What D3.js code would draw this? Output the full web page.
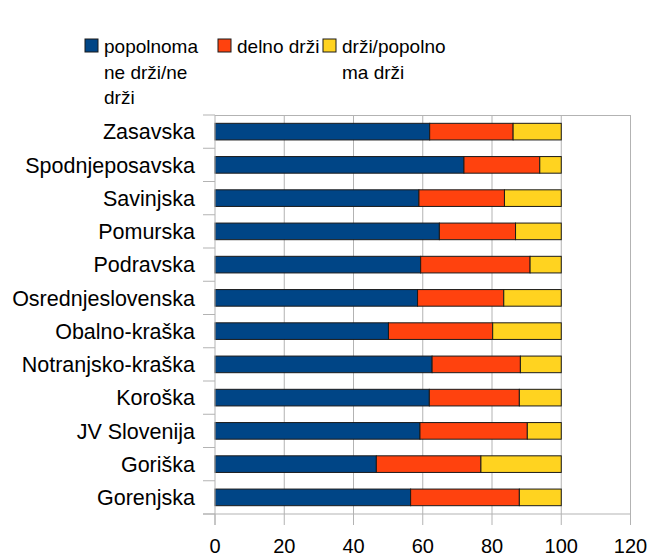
<!DOCTYPE html>
<html>
<head>
<meta charset="utf-8">
<script src="https://cdn.jsdelivr.net/npm/d3@7"></script>
<style>
  body { margin: 0; background: #fff; }
  text { font-family: "Liberation Sans", Arial, sans-serif; fill: #000; }
</style>
</head>
<body>
<div id="chart"></div>
<script>
// regions, top to bottom
var regions = ["Zasavska", "Spodnjeposavska", "Savinjska", "Pomurska", "Podravska",
  "Osrednjeslovenska", "Obalno-kraška", "Notranjsko-kraška", "Koroška",
  "JV Slovenija", "Goriška", "Gorenjska"];

// percentages
var neDrzi    = [62.0, 71.9, 58.9, 64.8, 59.4, 58.5, 50.1, 62.7, 61.9, 59.2, 46.6, 56.5];
var delnoDrzi = [24.1, 21.9, 24.7, 22.0, 31.6, 24.9, 30.1, 25.5, 26.0, 31.0, 30.2, 31.4];
var drzi      = [13.9,  6.2, 16.4, 13.2,  9.0, 16.6, 19.8, 11.8, 12.1,  9.8, 23.2, 12.1];

var seriesNames = [["popolnoma", "ne drži/ne", "drži"], ["delno drži"], ["drži/popolno", "ma drži"]];
var colors = ["#004586", "#ff420e", "#ffd320"];
var xTicks = [0, 20, 40, 60, 80, 100, 120];

var width = 649, height = 555;
// (window.top is read-only, so plot edges get their own names)
var pLeft = 215, pRight = 630.5, pTop = 115, pBottom = 514;
var fsCat = 21.5, fsTick = 20, fsLeg = 19;

var svg = d3.select("#chart").append("svg")
  .attr("width", width)
  .attr("height", height);

var x = d3.scaleLinear().domain([0, 120]).range([pLeft, pRight]);
var y = d3.scaleBand().domain(regions).range([pTop, pBottom]).paddingInner(0.5).paddingOuter(0.25);

// grid + frame
svg.selectAll(".grid")
  .data(xTicks.slice(1))
  .enter().append("line")
  .attr("x1", function(d){ return x(d); })
  .attr("x2", function(d){ return x(d); })
  .attr("y1", pTop)
  .attr("y2", pBottom)
  .attr("stroke", "#b3b3b3")
  .attr("stroke-width", 1);

svg.append("line")
  .attr("x1", pLeft).attr("x2", pRight)
  .attr("y1", pTop + 0.5).attr("y2", pTop + 0.5)
  .attr("stroke", "#b3b3b3");

// stacked bars
var table = regions.map(function(r, i){
  return { region: r, a: neDrzi[i], b: delnoDrzi[i], c: drzi[i] };
});
var stack = d3.stack().keys(["a", "b", "c"])(table);

svg.selectAll(".series")
  .data(stack)
  .enter().append("g")
  .attr("fill", function(d, i){ return colors[i]; })
  .selectAll("rect")
  .data(function(d){ return d; })
  .enter().append("rect")
  .attr("x", function(d){ return x(d[0]); })
  .attr("width", function(d){ return x(d[1]) - x(d[0]); })
  .attr("y", function(d){ return y(d.data.region); })
  .attr("height", y.bandwidth())
  .attr("stroke", "#1a1a1a")
  .attr("stroke-width", 1);

// y axis
var yAxis = svg.append("g");
yAxis.append("line")
  .attr("x1", pLeft).attr("x2", pLeft)
  .attr("y1", pTop).attr("y2", pBottom + 11)
  .attr("stroke", "#b3b3b3");

var bounds = d3.range(regions.length + 1).map(function(i){ return pTop + i * (pBottom - pTop) / regions.length; });
yAxis.selectAll(".ytick")
  .data(bounds)
  .enter().append("line")
  .attr("x1", pLeft - 12).attr("x2", pLeft)
  .attr("y1", function(d){ return d; })
  .attr("y2", function(d){ return d; })
  .attr("stroke", "#b3b3b3");

yAxis.selectAll(".ylab")
  .data(regions)
  .enter().append("text")
  .attr("x", 195)
  .attr("y", function(d){ return y(d) + y.bandwidth() / 2; })
  .attr("dy", "0.36em")
  .attr("text-anchor", "end")
  .style("font-size", fsCat + "px")
  .text(function(d){ return d; });

// x axis
var xAxis = svg.append("g");
xAxis.append("line")
  .attr("x1", pLeft - 12).attr("x2", pRight)
  .attr("y1", pBottom).attr("y2", pBottom)
  .attr("stroke", "#b3b3b3");

xAxis.selectAll(".xtick")
  .data(xTicks)
  .enter().append("line")
  .attr("x1", function(d){ return x(d); })
  .attr("x2", function(d){ return x(d); })
  .attr("y1", pBottom).attr("y2", pBottom + 11)
  .attr("stroke", "#b3b3b3");

xAxis.selectAll(".xlab")
  .data(xTicks)
  .enter().append("text")
  .attr("x", function(d){ return x(d); })
  .attr("y", 553)
  .attr("text-anchor", "middle")
  .style("font-size", fsTick + "px")
  .text(function(d){ return d; });

// legend
var legendX = [85, 218, 323];
var legend = svg.selectAll(".legend")
  .data(seriesNames)
  .enter().append("g")
  .attr("transform", function(d, i){ return "translate(" + legendX[i] + ",39)"; });

legend.append("rect")
  .attr("width", 13).attr("height", 13)
  .attr("fill", function(d, i){ return colors[i]; })
  .attr("stroke", "#1a1a1a");

legend.selectAll("text")
  .data(function(d){ return d; })
  .enter().append("text")
  .attr("x", 19)
  .attr("y", function(d, j){ return 14 + j * 25.5; })
  .style("font-size", fsLeg + "px")
  .text(function(d){ return d; });
</script>
</body>
</html>
